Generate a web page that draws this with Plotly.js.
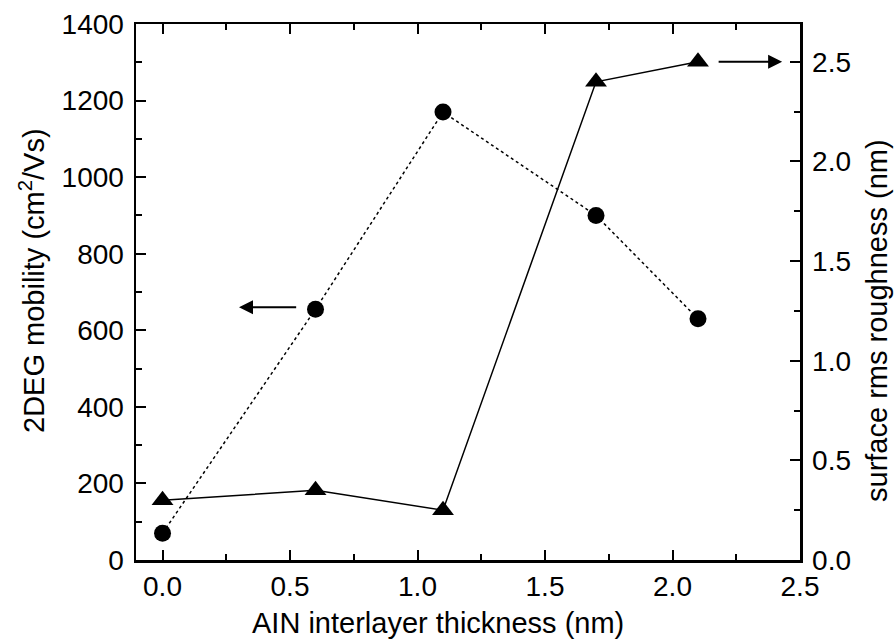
<!DOCTYPE html>
<html><head><meta charset="utf-8">
<script src="https://cdn.plot.ly/plotly-3.0.1.min.js"></script>
<style>html,body{margin:0;padding:0;background:#fff}</style>
</head><body><div id="chart" style="width:896px;height:644px"></div>
<script>
const thickness = [0.0, 0.6, 1.1, 1.7, 2.1];
const mobility = [70, 655, 1170, 900, 630];
const roughness = [0.30, 0.35, 0.25, 2.40, 2.50];
const xTitle = 'AIN interlayer thickness (nm)';
const yTitle = '2DEG mobility (cm<sup>2</sup>/Vs)';
const y2Title = 'surface rms roughness (nm)';

const font = {family: 'Liberation Sans, Arial, sans-serif', color: '#000'};
const traces = [
  {x: thickness, y: mobility, yaxis: 'y', mode: 'lines+markers', type: 'scatter',
   line: {color: '#000', width: 1.5, dash: 'dot'},
   marker: {symbol: 'circle', size: 17, color: '#000'}},
  {x: thickness, y: roughness, yaxis: 'y2', mode: 'lines+markers', type: 'scatter',
   line: {color: '#000', width: 1.5},
   marker: {symbol: 'triangle-up', size: 19, color: '#000'}}
];
const minorTicks = (d) => ({dtick: d, ticks: 'inside', ticklen: 6, tickwidth: 2, tickcolor: '#000'});
const axisCommon = {showline: true, linecolor: '#000', linewidth: 2.5, ticks: 'inside',
  ticklen: 10, tickwidth: 2, tickcolor: '#000', showgrid: false, zeroline: false,
  tickfont: Object.assign({size: 28}, font), automargin: false};
const titleFont = Object.assign({size: 29}, font);
const layout = {
  width: 896, height: 644, showlegend: false,
  paper_bgcolor: '#fff', plot_bgcolor: '#fff',
  margin: {l: 136, r: 96, t: 24, b: 84},
  font: font,
  xaxis: Object.assign({}, axisCommon, {range: [-0.104, 2.5], dtick: 0.5, tickformat: '.1f',
    mirror: 'ticks', minor: minorTicks(0.25), ticklabelstandoff: 0}),
  yaxis: Object.assign({}, axisCommon, {range: [0, 1400], dtick: 200,
    minor: minorTicks(100), ticklabelstandoff: 4}),
  yaxis2: Object.assign({}, axisCommon, {overlaying: 'y', side: 'right', range: [0, 2.69], dtick: 0.5,
    tickformat: '.1f', minor: minorTicks(0.25), ticklabelstandoff: 4}),
  annotations: [
    {text: xTitle, xref: 'paper', yref: 'paper', x: 0.455, y: -0.118, xanchor: 'center', yanchor: 'middle',
     showarrow: false, font: titleFont},
    {text: yTitle, xref: 'paper', yref: 'paper', x: -0.157, y: 0.522, xanchor: 'center', yanchor: 'middle',
     textangle: -90, showarrow: false, font: titleFont},
    {text: y2Title, xref: 'paper', yref: 'paper', x: 1.116, y: 0.446, xanchor: 'center', yanchor: 'middle',
     textangle: -90, showarrow: false, font: titleFont},
    {x: 0.30, y: 660, ax: 0.53, ay: 660, xref: 'x', yref: 'y', axref: 'x', ayref: 'y',
     text: '', showarrow: true, arrowhead: 2, arrowsize: 1.4, arrowwidth: 2, arrowcolor: '#000'},
    {x: 2.43, y: 2.5, ax: 2.175, ay: 2.5, xref: 'x', yref: 'y2', axref: 'x', ayref: 'y2',
     text: '', showarrow: true, arrowhead: 2, arrowsize: 1.4, arrowwidth: 2, arrowcolor: '#000'}
  ]
};
Plotly.newPlot('chart', traces, layout, {displayModeBar: false, staticPlot: true});
</script></body></html>
